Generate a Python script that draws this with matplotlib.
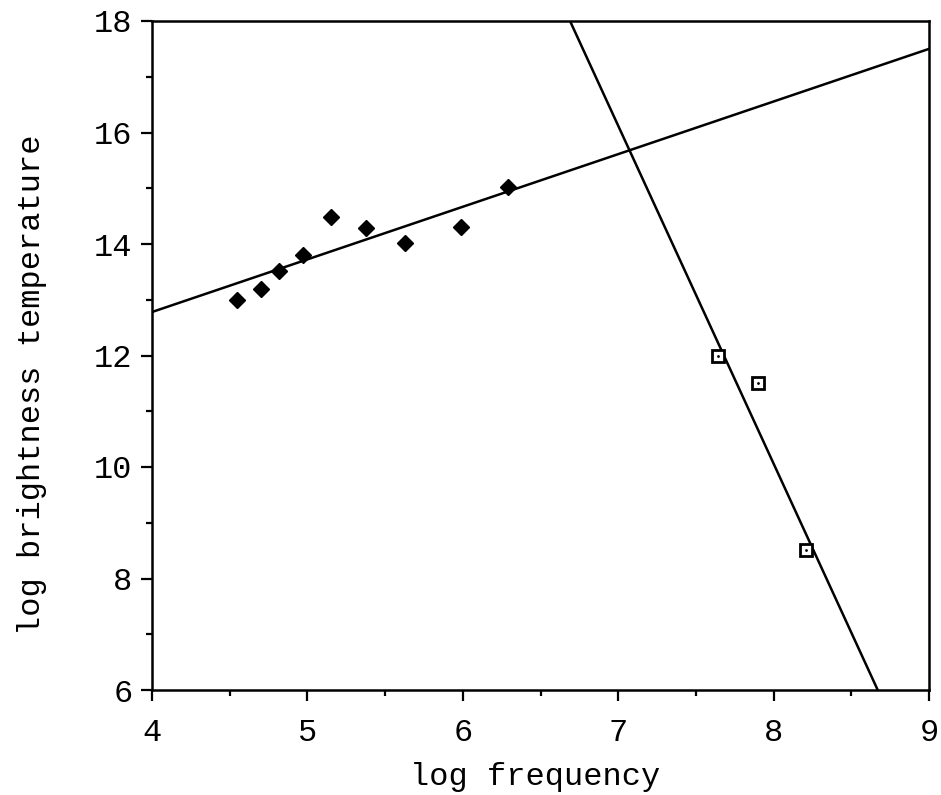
import numpy as np
import matplotlib.pyplot as plt

# radio points (filled diamonds)
radio_x = [4.55, 4.70, 4.82, 4.97, 5.15, 5.38, 5.63, 5.99, 6.29]
radio_y = [13.0, 13.19, 13.52, 13.80, 14.48, 14.29, 14.02, 14.30, 15.02]

# high-frequency points (open squares)
high_x = [7.64, 7.90, 8.21]
high_y = [12.0, 11.5, 8.52]

# fitted lines (end points)
fit1_x = [4.0, 9.0]
fit1_y = [12.78, 17.50]
fit2_x = [6.69, 8.67]
fit2_y = [18.0, 6.0]

plt.rcParams['font.family'] = ['Liberation Mono', 'DejaVu Sans Mono']

fig = plt.figure(figsize=(9.41, 7.95), dpi=100)
ax = fig.add_axes([152 / 941, 1 - 690 / 795, (929 - 152) / 941, (690 - 21) / 795])

ax.plot(fit1_x, fit1_y, color='black', lw=1.8)
ax.plot(fit2_x, fit2_y, color='black', lw=1.8)
ax.plot(radio_x, radio_y, 'D', color='black', ms=8, ls='none')
ax.plot(high_x, high_y, 's', mfc='white', mec='black', mew=2, ms=9, ls='none')
ax.plot(high_x, high_y, '.', color='black', ms=2, ls='none')

ax.set_xlim(4, 9)
ax.set_ylim(6, 18)
ax.set_xticks([4, 5, 6, 7, 8, 9])
ax.set_xticks(np.arange(4.5, 9, 1.0), minor=True)
ax.set_yticks([6, 8, 10, 12, 14, 16, 18])
ax.set_yticks(np.arange(7, 18, 2), minor=True)
ax.tick_params(which='major', direction='out', length=8, width=1.6, labelsize=23, pad=6)
ax.tick_params(which='minor', direction='out', length=4.5, width=1.6)
ax.tick_params(axis='x', pad=12)
for s in ax.spines.values():
    s.set_linewidth(1.8)

ax.set_xlabel('log frequency', fontsize=23)
ax.set_ylabel('log brightness temperature', fontsize=23)
ax.xaxis.set_label_coords(0.493, -0.108)
ax.yaxis.set_label_coords(-0.135, 0.456)

fig.savefig('out.png', dpi=100)
